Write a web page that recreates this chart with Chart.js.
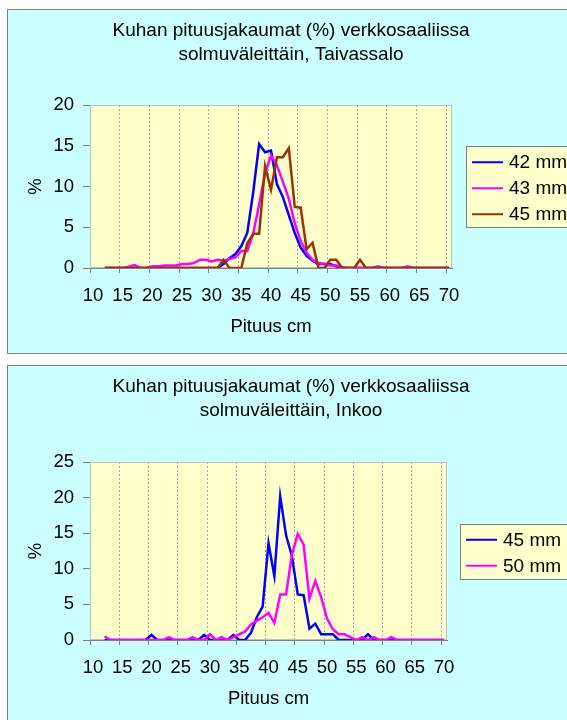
<!DOCTYPE html>
<html>
<head>
<meta charset="utf-8">
<script src="https://cdn.jsdelivr.net/npm/chart.js@4.4.1/dist/chart.umd.min.js"></script>
<style>
  html, body { margin: 0; padding: 0; width: 567px; height: 720px; overflow: hidden; background: #ffffff; }
  .panel { position: absolute; left: 7px; width: 600px; background: #ccffff; border: 1px solid #808080; box-sizing: border-box; }
  #panelTop { top: 9px; height: 345px; }
  #panelBottom { top: 365px; height: 420px; }
  canvas { position: absolute; left: 0; }
  #chartTop { top: 0; }
  #chartBottom { top: 356px; }
</style>
</head>
<body>
<div class="panel" id="panelTop"></div>
<div class="panel" id="panelBottom"></div>
<canvas id="chartTop" width="600" height="356"></canvas>
<canvas id="chartBottom" width="600" height="364"></canvas>
<script>
// Length classes (cm)
const lengthCm = ['10','11','12','13','14','15','16','17','18','19',
  '20','21','22','23','24','25','26','27','28','29',
  '30','31','32','33','34','35','36','37','38','39',
  '40','41','42','43','44','45','46','47','48','49',
  '50','51','52','53','54','55','56','57','58','59',
  '60','61','62','63','64','65','66','67','68','69','70'];

// Taivassalo, share of catch (%) per length class
const taiv42 = [null, null,
  0, 0, 0, 0, 0, 0, 0, 0, 0, 0, 0, 0, 0, 0, 0, 0, 0, 0, 0, 0,
  0.5, 1.2, 1.7, 2.7, 4.3, 9.3, 15.2, 14.2, 14.4, 10.3,
  8.7, 6.5, 4.3, 2.5, 1.5, 0.9, 0.5, 0.5, 0.5, 0.2,
  0, 0, 0, 0, 0, 0, 0, 0, 0, 0, 0, 0, 0, 0, 0, 0, 0, 0, 0];
const taiv43 = [null, null,
  0, 0, 0, 0, 0.15, 0.35, 0, 0, 0.2, 0.2, 0.3, 0.3, 0.3, 0.5, 0.5, 0.6, 1.0, 1.0, 0.8, 1.0,
  0.9, 1.1, 1.3, 2.1, 2.1, 4.2, 7.8, 11.6, 13.8, 12.6,
  10.6, 8.5, 5.5, 3.3, 1.9, 1.0, 0.6, 0.5, 0.3, 0.3,
  0.1, 0, 0, 0, 0, 0, 0.2, 0, 0, 0, 0, 0.2, 0, 0, 0, 0, 0, 0, 0];
const taiv45 = [null, null,
  0, 0, 0, 0, 0, 0, 0, 0, 0, 0, 0, 0, 0, 0, 0, 0, 0, 0, 0, 0,
  1.0, 0, 0, 0, 3.0, 4.2, 4.2, 12.5, 9.6, 13.6,
  13.6, 14.7, 7.5, 7.4, 2.3, 3.1, 0, 0, 1.0, 1.0,
  0, 0, 0, 1.0, 0, 0, 0, 0, 0, 0, 0, 0, 0, 0, 0, 0, 0, 0, 0];

// Inkoo, share of catch (%) per length class
const inkoo45 = [null, null,
  0, 0, 0, 0, 0, 0, 0, 0, 0.7, 0, 0, 0, 0, 0, 0, 0, 0, 0.7, 0, 0,
  0, 0, 0.7, 0, 0, 1.0, 3.2, 4.7, 13.6, 9.0,
  20.2, 14.7, 11.8, 6.4, 6.3, 1.6, 2.3, 0.8, 0.8, 0.8,
  0, 0, 0, 0, 0, 0.8, 0, 0, 0, 0, 0, 0, 0, 0, 0, 0, 0, 0, 0];
const inkoo50 = [null, null,
  0.5, 0, 0, 0, 0, 0, 0, 0, 0, 0, 0, 0.4, 0, 0, 0, 0.4, 0, 0, 0.8, 0,
  0.4, 0, 0.4, 0.8, 1.2, 2.2, 2.7, 3.2, 3.8, 2.4,
  6.4, 6.4, 12.0, 14.9, 13.4, 5.8, 8.3, 6.0, 3.0, 1.5,
  0.8, 0.8, 0.4, 0, 0.4, 0, 0.4, 0, 0, 0.4, 0, 0, 0, 0, 0, 0, 0, 0, 0];

const seriesTop = ['42 mm', '43 mm', '45 mm'];
const seriesBottom = ['45 mm', '50 mm'];
const titleTop = ['Kuhan pituusjakaumat (%) verkkosaaliissa', 'solmuväleittäin, Taivassalo'];
const titleBottom = ['Kuhan pituusjakaumat (%) verkkosaaliissa', 'solmuväleittäin, Inkoo'];
const axisX = 'Pituus cm';
const axisY = '%';

const FONT = 'Liberation Sans, Arial, sans-serif';
const PLOT_BG = '#ffffcc';

// Yellow plot background and a thin frame around the plotting area
const plotFrame = {
  id: 'plotFrame',
  beforeDraw(chart) {
    const a = chart.chartArea, ctx = chart.ctx;
    ctx.save();
    ctx.fillStyle = PLOT_BG;
    ctx.fillRect(a.left, a.top, a.right - a.left, a.bottom - a.top);
    ctx.restore();
  },
  beforeDatasetsDraw(chart) {
    const a = chart.chartArea, ctx = chart.ctx;
    ctx.save();
    ctx.strokeStyle = '#b8c4c4';
    ctx.lineWidth = 1;
    ctx.strokeRect(a.left + 0.5, a.top + 0.5, a.right - a.left - 1, a.bottom - a.top - 1);
    ctx.restore();
  }
};

// Framed legend placed as a layout box to the right of the plot
const framedLegend = {
  id: 'framedLegend',
  beforeInit(chart) {
    const opts = chart.options.plugins.framedLegend;
    const box = {
      position: 'right', weight: 100, fullSize: false,
      options: { stack: undefined, stackWeight: 1 },
      left: 0, top: 0, right: 0, bottom: 0, width: 0, height: 0,
      isHorizontal() { return false; },
      update(maxWidth, maxHeight) { this.width = opts.space; this.height = maxHeight; return this; },
      draw() {
        const ctx = chart.ctx, a = chart.chartArea;
        const sets = chart.data.datasets;
        const rowH = 26;
        const h = sets.length * rowH + 2.5;
        const x0 = a.right + opts.gap;
        const y0 = (a.top + a.bottom) / 2 - h / 2;
        ctx.save();
        ctx.fillStyle = PLOT_BG;
        ctx.fillRect(x0, y0, chart.width - x0 + 20, h);
        ctx.strokeStyle = '#808080';
        ctx.lineWidth = 1;
        ctx.strokeRect(Math.round(x0) + 0.5, Math.round(y0) + 0.5, chart.width, Math.round(h));
        ctx.font = '19px ' + FONT;
        ctx.textBaseline = 'middle';
        ctx.textAlign = 'left';
        sets.forEach((ds, i) => {
          const y = y0 + 16 + i * rowH;
          ctx.strokeStyle = ds.borderColor;
          ctx.lineWidth = 2;
          ctx.beginPath();
          ctx.moveTo(x0 + 6, y);
          ctx.lineTo(x0 + 37, y);
          ctx.stroke();
          ctx.fillStyle = '#000000';
          ctx.fillText(ds.label, x0 + 43, y + 1);
        });
        ctx.restore();
      }
    };
    Chart.layouts.addBox(chart, box);
  }
};

function makeChart(canvasId, title, names, values, colors, yMax, legendSpace, legendGap, padBottom, titleGap) {
  const datasets = names.map((name, i) => ({
    label: name,
    data: values[i],
    borderColor: colors[i],
    backgroundColor: colors[i],
    borderWidth: 2.5,
    pointRadius: 0,
    tension: 0,
    fill: false,
    order: names.length - i
  }));
  return new Chart(document.getElementById(canvasId), {
    type: 'line',
    data: { labels: lengthCm, datasets },
    plugins: [plotFrame, framedLegend],
    options: {
      responsive: false,
      animation: false,
      events: [],
      layout: { padding: { left: 0, right: 18, top: 9, bottom: padBottom } },
      plugins: {
        legend: { display: false },
        tooltip: { enabled: false },
        framedLegend: { space: legendSpace, gap: legendGap },
        title: {
          display: true,
          text: title,
          color: '#000000',
          font: { family: FONT, size: 19, weight: 'normal', lineHeight: 24 / 19 },
          padding: { top: 10, bottom: titleGap }
        }
      },
      scales: {
        x: {
          type: 'category',
          offset: true,
          afterFit(scale) { scale.height = 78; },
          border: { display: true, color: '#808080', width: 1, dash: [2, 2] },
          grid: {
            offset: true,
            drawOnChartArea: true,
            drawTicks: true,
            tickLength: 5,
            lineWidth: 1,
            color: (ctx) => (ctx.index % 5 === 0 && ctx.index > 0) ? '#a8a8a8' : 'rgba(0,0,0,0)',
            tickColor: (ctx) => (ctx.index % 5 === 0) ? '#808080' : 'rgba(0,0,0,0)',
            tickBorderDash: []
          },
          ticks: {
            autoSkip: false,
            maxRotation: 0,
            minRotation: 0,
            padding: 12,
            color: '#000000',
            font: { family: FONT, size: 18.5 },
            callback(value, index) { return index % 5 === 0 ? this.getLabelForValue(value) : ''; }
          },
          title: {
            display: true,
            text: axisX,
            color: '#000000',
            font: { family: FONT, size: 18.5 },
            padding: { top: 0, bottom: 8 }
          }
        },
        y: {
          min: 0,
          max: yMax,
          afterFit(scale) { scale.width = 90; },
          border: { display: true, color: '#808080', width: 1 },
          grid: { drawOnChartArea: false, drawTicks: true, tickLength: 7, color: '#808080', tickColor: '#808080' },
          ticks: {
            stepSize: 5,
            padding: 9,
            color: '#000000',
            font: { family: FONT, size: 18.5 }
          },
          title: {
            display: true,
            text: axisY,
            color: '#000000',
            font: { family: FONT, size: 18.5 },
            padding: { top: 25, bottom: 0 }
          }
        }
      }
    }
  });
}

makeChart('chartTop', titleTop, seriesTop, [taiv42, taiv43, taiv45],
  ['#0000ff', '#ff00ff', '#993300'], 20, 130, 14, 10, 38);
makeChart('chartBottom', titleBottom, seriesBottom, [inkoo45, inkoo50],
  ['#0000ff', '#ff00ff'], 25, 135, 13, 2, 39);
</script>
</body>
</html>
